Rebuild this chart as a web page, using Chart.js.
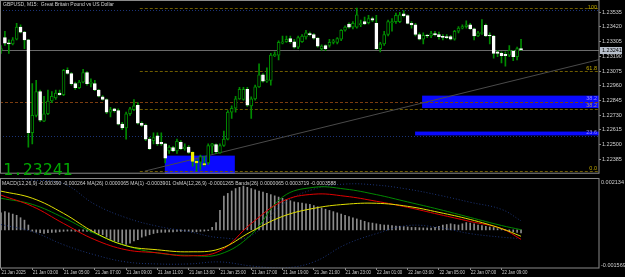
<!DOCTYPE html>
<html>
<head>
<meta charset="utf-8">
<script src="https://cdn.jsdelivr.net/npm/chart.js@4.4.1/dist/chart.umd.min.js"></script>
<style>
  html, body { margin: 0; padding: 0; background: #000; width: 625px; height: 277px; overflow: hidden; }
  canvas { display: block; }
</style>
</head>
<body>
<canvas id="priceChart" width="625" height="178"></canvas>
<canvas id="macdChart" width="625" height="99"></canvas>
<script>
// GBPUSD M15 candles, 21 Jan 01:00 .. 22 Jan 10:15
const openP = [1.23237,1.23337,1.23290,1.23287,1.23324,1.23418,1.23379,1.23319,1.22593,1.22729,
  1.22915,1.22684,1.22741,1.22841,1.22865,1.22903,1.22890,1.23081,1.23056,1.22977,
  1.22945,1.22989,1.23064,1.22977,1.22977,1.22927,1.22873,1.22853,1.22754,1.22779,
  1.22766,1.22660,1.22630,1.22741,1.22774,1.22808,1.22667,1.22650,1.22543,1.22531,
  1.22568,1.22518,1.22506,1.22451,1.22476,1.22451,1.22518,1.22469,1.22481,1.22439,
  1.22369,1.22362,1.22352,1.22357,1.22488,1.22501,1.22436,1.22493,1.22543,1.22754,
  1.22784,1.22858,1.22853,1.22932,1.22803,1.22858,1.22952,1.23046,1.22997,1.23002,
  1.23195,1.23200,1.23294,1.23304,1.23329,1.23304,1.23262,1.23304,1.23342,1.23369,
  1.23361,1.23332,1.23250,1.23275,1.23275,1.23299,1.23299,1.23324,1.23394,1.23443,
  1.23418,1.23418,1.23438,1.23461,1.23453,1.23485,1.23448,1.23250,1.23287,1.23361,
  1.23453,1.23461,1.23461,1.23523,1.23508,1.23448,1.23436,1.23361,1.23324,1.23354,
  1.23349,1.23369,1.23361,1.23344,1.23344,1.23344,1.23324,1.23386,1.23411,1.23423,
  1.23436,1.23406,1.23349,1.23369,1.23433,1.23354,1.23349,1.23225,1.23213,1.23205,
  1.23200,1.23230,1.23188,1.23250];
const highP = [1.23275,1.23386,1.23319,1.23337,1.23448,1.23436,1.23386,1.23324,1.22977,1.23002,
  1.22927,1.22878,1.22927,1.22915,1.22927,1.22927,1.23089,1.23101,1.23064,1.22989,
  1.23002,1.23089,1.23071,1.23014,1.23002,1.22932,1.22883,1.22858,1.22791,1.22784,
  1.22779,1.22674,1.22754,1.22791,1.22853,1.22828,1.22679,1.22660,1.22555,1.22593,
  1.22593,1.22593,1.22511,1.22493,1.22486,1.22543,1.22531,1.22506,1.22493,1.22444,
  1.22382,1.22419,1.22407,1.22506,1.22511,1.22506,1.22506,1.22605,1.22766,1.22803,
  1.22878,1.22947,1.22947,1.22947,1.22873,1.22965,1.23131,1.23056,1.23101,1.23213,
  1.23225,1.23312,1.23349,1.23349,1.23349,1.23324,1.23349,1.23361,1.23394,1.23379,
  1.23369,1.23337,1.23280,1.23280,1.23324,1.23324,1.23337,1.23399,1.23428,1.23453,
  1.23461,1.23567,1.23473,1.23498,1.23510,1.23498,1.23510,1.23299,1.23386,1.23473,
  1.23485,1.23528,1.23535,1.23547,1.23515,1.23461,1.23448,1.23374,1.23374,1.23361,
  1.23386,1.23386,1.23379,1.23361,1.23361,1.23354,1.23394,1.23423,1.23436,1.23468,
  1.23448,1.23411,1.23386,1.23478,1.23443,1.23374,1.23354,1.23237,1.23225,1.23225,
  1.23275,1.23237,1.23262,1.23324];
const lowP = [1.23213,1.23275,1.23213,1.23280,1.23319,1.23374,1.23250,1.22481,1.22506,1.22717,
  1.22679,1.22679,1.22734,1.22828,1.22853,1.22885,1.22883,1.23051,1.22965,1.22932,
  1.22937,1.22982,1.22965,1.22952,1.22922,1.22873,1.22848,1.22741,1.22717,1.22754,
  1.22655,1.22617,1.22543,1.22729,1.22766,1.22660,1.22642,1.22531,1.22461,1.22506,
  1.22493,1.22493,1.22357,1.22431,1.22444,1.22431,1.22461,1.22456,1.22431,1.22332,
  1.22295,1.22307,1.22332,1.22345,1.22431,1.22431,1.22431,1.22486,1.22536,1.22704,
  1.22754,1.22853,1.22848,1.22798,1.22704,1.22848,1.22947,1.22989,1.22987,1.22965,
  1.23188,1.23163,1.23287,1.23299,1.23294,1.23255,1.23250,1.23299,1.23324,1.23349,
  1.23324,1.23262,1.23237,1.23235,1.23262,1.23287,1.23287,1.23312,1.23386,1.23411,
  1.23404,1.23411,1.23423,1.23438,1.23443,1.23461,1.23245,1.23225,1.23275,1.23349,
  1.23386,1.23448,1.23453,1.23498,1.23443,1.23411,1.23349,1.23319,1.23287,1.23337,
  1.23337,1.23349,1.23324,1.23319,1.23329,1.23319,1.23317,1.23374,1.23404,1.23411,
  1.23399,1.23319,1.23344,1.23361,1.23344,1.23287,1.23175,1.23188,1.23138,1.23113,
  1.23188,1.23156,1.23163,1.23237];
const closeP = [1.23250,1.23294,1.23287,1.23319,1.23418,1.23379,1.23319,1.22593,1.22729,1.22915,
  1.22692,1.22741,1.22841,1.22878,1.22903,1.22890,1.23081,1.23056,1.22977,1.22945,
  1.22989,1.23064,1.22977,1.22989,1.22927,1.22878,1.22853,1.22754,1.22774,1.22766,
  1.22660,1.22630,1.22741,1.22779,1.22803,1.22667,1.22650,1.22543,1.22469,1.22555,
  1.22506,1.22506,1.22394,1.22481,1.22451,1.22526,1.22469,1.22481,1.22439,1.22369,
  1.22357,1.22407,1.22342,1.22493,1.22506,1.22444,1.22493,1.22543,1.22754,1.22784,
  1.22858,1.22932,1.22932,1.22808,1.22858,1.22952,1.23046,1.22997,1.23007,1.23200,
  1.23205,1.23299,1.23304,1.23324,1.23304,1.23262,1.23337,1.23349,1.23374,1.23359,
  1.23332,1.23270,1.23270,1.23250,1.23299,1.23312,1.23329,1.23394,1.23418,1.23418,
  1.23448,1.23515,1.23443,1.23443,1.23485,1.23473,1.23250,1.23287,1.23361,1.23461,
  1.23461,1.23510,1.23515,1.23508,1.23448,1.23436,1.23361,1.23324,1.23354,1.23349,
  1.23369,1.23359,1.23344,1.23339,1.23337,1.23324,1.23386,1.23411,1.23423,1.23436,
  1.23406,1.23349,1.23374,1.23374,1.23349,1.23349,1.23213,1.23213,1.23195,1.23195,
  1.23237,1.23188,1.23250,1.23241];
const yellowBars = [49, 50, 52];

const priceTicks = [1.23535, 1.23420, 1.23305, 1.23190, 1.23075, 1.22960, 1.22845, 1.22730, 1.22615, 1.22500, 1.22385];
const lastPrice = 1.23241;
const timeLabels = ['21 Jan 2025', '21 Jan 03:00', '21 Jan 05:00', '21 Jan 07:00', '21 Jan 09:00', '21 Jan 11:00',
  '21 Jan 13:00', '21 Jan 15:00', '21 Jan 17:00', '21 Jan 19:00', '21 Jan 21:00', '21 Jan 23:00',
  '22 Jan 01:00', '22 Jan 03:00', '22 Jan 05:00', '22 Jan 07:00', '22 Jan 09:00'];

// objects drawn on the price chart
const zones = [
  { from: 41.9, end: 59.8, top: 1.22414, bottom: null },
  { from: 107.7, end: null, top: 1.22883, bottom: 1.22786 },
  { from: 105.9, end: null, top: 1.22602, bottom: 1.22572 }
];
const levelPrices = [1.23565, 1.23552, 1.23072, 1.22836, 1.22779, 1.22570, 1.22291];
const levelStart = [35.5, null, 35.5, null, 35.5, null, 35.5];
const levelKind = ['fib', 'blue', 'fib', 'brown', 'fib', 'blue', 'fib'];
const fibTexts = ['100', '61.8', '38.2', '38.2', '23.6', '0.0'];
const fibTextPrices = [1.23575, 1.23099, 1.22860, 1.22803, 1.22593, 1.22315];
const trendBars = [36.8, 152.9];
const trendPrices = [1.22293, 1.23164];

// MACD window, sampled every 8 bars
const macdBars = [0, 8, 16, 24, 32, 40, 48, 56, 64, 72, 80, 88, 96, 104, 112, 120, 128, 133];
const macdRed = [0.001427, 0.000969, 0.000262, -0.000404, -0.000820, -0.000944, -0.001069, -0.000861, 0.000262,
  0.001177, 0.001468, 0.001385, 0.001177, 0.000928, 0.000636, 0.000345, 0.000054, -0.000390];
const macdYellow = [0.001593, 0.001302, 0.000678, -0.000112, -0.000653, -0.000820, -0.000903, -0.000778, -0.000071,
  0.000553, 0.000886, 0.001052, 0.001094, 0.000969, 0.000720, 0.000428, 0.000054, -0.000264];
const macdGreen = [0.001300, 0.001050, 0.000500, -0.000150, -0.000650, -0.000950, -0.001050, -0.001000, -0.000200,
  0.001350, 0.001750, 0.001680, 0.001450, 0.001150, 0.000844, 0.000511, 0.000179, 0.0000065];
const bandUpper = [0.002134, 0.002050, 0.001900, 0.001050, 0.000500, 0.000150, -0.000071, -0.000320, -0.000237,
  0.001052, 0.001676, 0.001884, 0.001843, 0.001676, 0.001427, 0.001136, 0.000844, 0.0003719];
const bandLower = [0.000220, -0.000071, -0.000612, -0.001028, -0.001319, -0.001402, -0.001402, -0.001319, -0.001485,
  -0.001569, -0.001319, -0.000612, -0.000154, 0.000178, 0.000095, -0.000154, -0.000300, -0.0003588];
// histogram, one value per bar
const osma = [0.0007, 0.00075, 0.0007, 0.00065, 0.0006, 0.0005, 0.0004, 0.0002,
  -0.00005, -0.0001, -0.00012, -0.00015, -0.00012, -0.0001, -0.0001, -0.00008, -0.00006, -0.00005, -0.00005,
  -0.00006, -0.00006, -0.00005, -0.00006, -0.00008, -0.0001,
  -0.00015, -0.0002, -0.0003, -0.0004, -0.00045, -0.0005, -0.00055, -0.0006, -0.00055, -0.00045, -0.0004,
  -0.0003, -0.00025, -0.0002, -0.00015, -0.00012,
  -0.0001, -0.0001, -0.00008, -0.00008, -0.00006, -0.00006, -0.00006, -0.00006, -0.00008, -0.00008, -0.00006,
  -0.00005, -0.00003, 0.0001, 0.0003,
  0.0008, 0.00139, 0.0015, 0.0016, 0.0017, 0.00175, 0.0018, 0.00175, 0.0017, 0.00165, 0.0016, 0.00155, 0.0015,
  0.00145, 0.0014,
  0.00135, 0.0013, 0.00125, 0.0012, 0.00115, 0.00112, 0.0011, 0.00107, 0.00105, 0.001, 0.00095, 0.0009,
  0.00085, 0.0008, 0.00075, 0.0007, 0.00065, 0.0006, 0.00055, 0.0005,
  0.00045, 0.0004, 0.00035, 0.0003, 0.00028, 0.00025, 0.00022, 0.0002, 0.0002, 0.00018, 0.00016, 0.00015,
  0.00014, 0.00012, 0.0001, 0.0001, 0.00009, 0.00008, 0.00008, 0.00007,
  0.0001, 0.00015, 0.0002, 0.00022, 0.00025, 0.00022, 0.0002, 0.00025, 0.0003, 0.00028, 0.00025,
  0.0002, 0.00018, 0.00015, 0.00012, 0.0001, 0.00005, 0.00002, -0.00003, -0.00006, -0.00008, -0.0001,
  -0.0001265];
const macdTop = 0.002134;
const macdBottom = -0.001569;
const macdText = 'MACD(12,26,9) -0.000390 -0.000264 MA(26) 0.0000065 MA(1) -0.0003901 OsMA(12,26,9) -0.0001265 Bands(26) 0.0000065 0.0003719 -0.0003588';

const smallFont = '5.5px "Liberation Sans", Arial, sans-serif';
const barStep = 3.91;
const plotW = 599;
const xMin = -1 / barStep;
const xMax = xMin + plotW / barStep;

const bodies = openP.map((o, i) => ({ x: i, y: [Math.min(o, closeP[i]), Math.max(o, closeP[i])] }));
const wicks = openP.map((o, i) => ({ x: i, y: [lowP[i], highP[i]] }));
const bodyFill = openP.map((o, i) => yellowBars.includes(i) ? '#f0f000' : (closeP[i] >= o ? '#000000' : '#ffffff'));
const bodyLine = openP.map((o, i) => yellowBars.includes(i) ? '#f0f000' : (closeP[i] >= o ? '#008c00' : '#ffffff'));

function condensedText(ctx, text, x, y, sx) {
  ctx.save();
  ctx.translate(x, y);
  ctx.scale(sx, 1);
  ctx.fillText(text, 0, 0);
  ctx.restore();
}

const priceOverlay = {
  id: 'priceOverlay',
  beforeDatasetsDraw(chart) {
    const { ctx, chartArea: a, scales: { x, y } } = chart;
    ctx.save();
    ctx.fillStyle = '#0a0aff';
    zones.forEach(z => {
      const x0 = x.getPixelForValue(z.from);
      const x1 = z.end != null ? x.getPixelForValue(z.end) : a.right;
      const y0 = y.getPixelForValue(z.top);
      const y1 = z.bottom != null ? y.getPixelForValue(z.bottom) : a.bottom;
      ctx.fillRect(x0, y0, x1 - x0, y1 - y0);
    });
    levelPrices.forEach((p, k) => {
      const py = Math.round(y.getPixelForValue(p)) + 0.5;
      const x0 = levelStart[k] != null ? x.getPixelForValue(levelStart[k]) : a.left;
      ctx.beginPath();
      if (levelKind[k] === 'fib') { ctx.strokeStyle = '#6e5c00'; ctx.setLineDash([3, 2]); }
      else if (levelKind[k] === 'blue') { ctx.strokeStyle = '#1c3478'; ctx.setLineDash([1, 2]); }
      else { ctx.strokeStyle = '#7a3c10'; ctx.setLineDash([3, 2]); }
      ctx.lineWidth = 1;
      ctx.moveTo(x0, py); ctx.lineTo(a.right, py); ctx.stroke();
    });
    ctx.setLineDash([]);
    const ly = Math.round(y.getPixelForValue(lastPrice)) + 0.5;
    ctx.strokeStyle = '#6a6a6a';
    ctx.beginPath(); ctx.moveTo(a.left, ly); ctx.lineTo(a.right, ly); ctx.stroke();
    ctx.restore();
  },
  afterDraw(chart) {
    const { ctx, chartArea: a, scales: { y } } = chart;
    ctx.save();
    ctx.strokeStyle = '#8a8a8a';
    ctx.lineWidth = 1;
    ctx.strokeRect(0.5, 0.5, a.right - 0.5, a.bottom - 1);
    ctx.font = smallFont;
    ctx.textBaseline = 'middle';
    ctx.fillStyle = '#d0d0d0';
    condensedText(ctx, 'GBPUSD, M15:  Great Britain Pound vs US Dollar', 3, 4, 0.91);
    ctx.textAlign = 'right';
    fibTexts.forEach((t, k) => {
      const inBand = k === 2 || k === 4;
      ctx.fillStyle = inBand ? '#9a8cff' : (k === 3 ? '#a89870' : '#c0a800');
      ctx.fillText(t, a.right - 2, y.getPixelForValue(fibTextPrices[k]));
    });
    // last price tag on the axis
    const ly = Math.round(y.getPixelForValue(lastPrice));
    ctx.fillStyle = '#b8c0cc';
    ctx.fillRect(a.right + 1, ly - 3, 22, 7);
    ctx.fillStyle = '#000';
    ctx.textAlign = 'left';
    ctx.fillText(lastPrice.toFixed(5), a.right + 3, ly + 0.5);
    ctx.font = '16.5px "DejaVu Sans Mono", monospace';
    ctx.textBaseline = 'alphabetic';
    ctx.fillStyle = '#00a800';
    ctx.fillText(lastPrice.toFixed(5), 3, 174.5);
    ctx.restore();
  }
};

new Chart(document.getElementById('priceChart'), {
  data: {
    datasets: [
      { type: 'bar', data: bodies, backgroundColor: bodyFill, borderColor: bodyLine, borderWidth: 1,
        borderSkipped: false, barThickness: 3, minBarLength: 1, grouped: false, order: 0 },
      { type: 'bar', data: wicks, backgroundColor: '#008c00', borderWidth: 0, barThickness: 1, grouped: false, order: 1 },
      { type: 'line', data: trendBars.map((b, k) => ({ x: b, y: trendPrices[k] })), borderColor: '#4a4a4a',
        borderWidth: 1, pointRadius: 0, order: 2 }
    ]
  },
  options: {
    responsive: false,
    animation: false,
    layout: { padding: 0 },
    plugins: { legend: { display: false }, tooltip: { enabled: false } },
    scales: {
      x: { type: 'linear', min: xMin, max: xMax, offset: false, grid: { offset: false }, display: false },
      y: {
        position: 'right', min: 1.23597 - 178 * 0.0000744, max: 1.23597,
        afterFit: s => { s.width = 26; },
        afterBuildTicks: s => { s.ticks = priceTicks.map(v => ({ value: v })); },
        grid: { drawOnChartArea: false, tickLength: 2, color: '#8a8a8a' },
        border: { display: false },
        ticks: { color: '#d0d0d0', font: { family: '"Liberation Sans", Arial', size: 5.5 }, padding: 1,
          callback: v => v.toFixed(5) }
      }
    }
  },
  plugins: [priceOverlay]
});

const macdOverlay = {
  id: 'macdOverlay',
  afterDraw(chart) {
    const { ctx, chartArea: a, scales: { x } } = chart;
    ctx.save();
    ctx.strokeStyle = '#8a8a8a';
    ctx.lineWidth = 1;
    ctx.strokeRect(0.5, 0.5, a.right - 0.5, a.bottom - 0.5);
    ctx.font = smallFont;
    ctx.fillStyle = '#d0d0d0';
    ctx.textBaseline = 'middle';
    condensedText(ctx, macdText, 2, 5.5, 0.92);
    ctx.fillText(macdTop.toFixed(6), a.right + 2, 4.5);
    ctx.fillText(macdBottom.toFixed(6), a.right + 2, a.bottom - 3);
    timeLabels.forEach((t, k) => {
      condensedText(ctx, t, x.getPixelForValue(k * 8) + 0.5, a.bottom + 4.5, 0.8);
    });
    ctx.restore();
  }
};

new Chart(document.getElementById('macdChart'), {
  data: {
    datasets: [
      { type: 'line', data: macdBars.map((b, k) => ({ x: b, y: macdYellow[k] })), borderColor: '#e0e000',
        borderWidth: 1, pointRadius: 0, tension: 0.4, order: 0 },
      { type: 'line', data: macdBars.map((b, k) => ({ x: b, y: macdRed[k] })), borderColor: '#e00000',
        borderWidth: 1, pointRadius: 0, tension: 0.4, order: 1 },
      { type: 'line', data: macdBars.map((b, k) => ({ x: b, y: macdGreen[k] })), borderColor: '#008a00',
        borderWidth: 1, pointRadius: 0, tension: 0.4, order: 2 },
      { type: 'line', data: macdBars.map((b, k) => ({ x: b, y: bandUpper[k] })), borderColor: '#1c3478',
        borderWidth: 1, borderDash: [1, 2], pointRadius: 0, tension: 0.4, order: 3 },
      { type: 'line', data: macdBars.map((b, k) => ({ x: b, y: bandLower[k] })), borderColor: '#1c3478',
        borderWidth: 1, borderDash: [1, 2], pointRadius: 0, tension: 0.4, order: 4 },
      { type: 'bar', data: osma.map((v, i) => ({ x: i, y: v })), backgroundColor: '#8c8c8c', barThickness: 1,
        borderWidth: 0, order: 5 }
    ]
  },
  options: {
    responsive: false,
    animation: false,
    layout: { padding: 0 },
    plugins: { legend: { display: false }, tooltip: { enabled: false } },
    scales: {
      x: {
        type: 'linear', min: xMin, max: xMax, position: 'bottom', offset: false,
        afterFit: s => { s.height = 9; },
        afterBuildTicks: s => { s.ticks = timeLabels.map((t, k) => ({ value: k * 8 })); },
        grid: { drawOnChartArea: false, tickLength: 2, color: '#8a8a8a', offset: false },
        border: { display: false },
        ticks: { display: false }
      },
      y: {
        position: 'right', min: macdBottom, max: macdTop,
        afterFit: s => { s.width = 26; },
        grid: { display: false }, border: { display: false }, ticks: { display: false }
      }
    }
  },
  plugins: [macdOverlay]
});
</script>
</body>
</html>
